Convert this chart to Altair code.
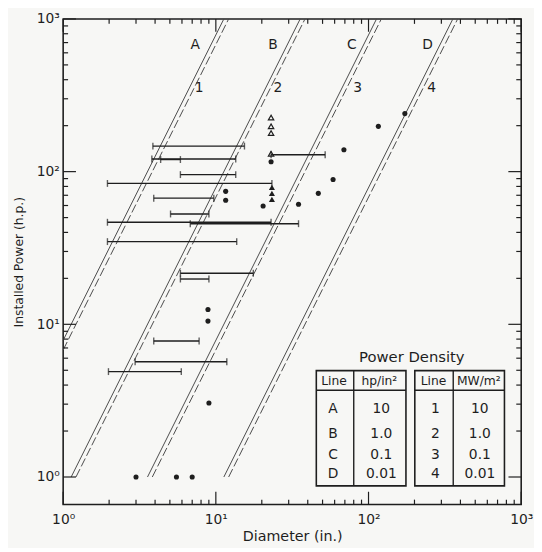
import math
import altair as alt
import pandas as pd

# ------------------------------------------------------------------ data
# Power-density lines (table values)
letters = ["A", "B", "C", "D"]
density_hp_in2 = [10, 1.0, 0.1, 0.01]
numbers = ["1", "2", "3", "4"]
density_mw_m2 = [10, 1.0, 0.1, 0.01]
table_hp_text = ["10", "1.0", "0.1", "0.01"]
table_mw_text = ["10", "1.0", "0.1", "0.01"]

# Horizontal ranges: installed power (h.p.) and diameter range (in.)
range_power = [147, 121, 120, 129, 95.6, 83.7, 67.0, 52.8, 46.6, 45.6, 34.8, 21.6, 19.8, 7.77, 5.69, 4.90]
range_dmin = [3.87, 3.81, 4.35, 23.0, 5.86, 1.95, 3.92, 5.05, 1.95, 6.80, 1.95, 5.86, 5.86, 3.92, 2.96, 1.98]
range_dmax = [15.4, 13.5, 5.86, 52.0, 13.5, 23.3, 9.70, 9.01, 23.0, 34.8, 13.7, 17.6, 9.01, 7.77, 11.8, 5.94]

# Single points
dot_diam = [11.6, 11.6, 20.4, 34.8, 46.9, 58.6, 69.0, 116, 173, 23.0, 8.88, 8.88, 9.01, 3.0, 5.52, 7.0]
dot_power = [74.3, 65.0, 59.5, 61.2, 72.1, 88.8, 139, 198, 240, 116, 12.5, 10.5, 3.05, 1.0, 1.0, 1.0]

open_tri_diam = [23.0, 23.0, 23.0, 23.0]
open_tri_power = [226, 198, 179, 131]
filled_tri_diam = [23.3, 23.3, 23.3]
filled_tri_power = [78.9, 72.1, 65.9]

# Line labels
letter_label_diam = [7.32, 23.7, 77.7, 244]
letter_label_power = [670, 670, 670, 670]
number_label_diam = [7.77, 25.5, 85, 259]
number_label_power = [353, 353, 353, 353]

# Axis ticks
major_ticks = [1, 10, 100, 1000]
minor_ticks = [2, 3, 4, 5, 6, 7, 8, 9,
               20, 30, 40, 50, 60, 70, 80, 90,
               200, 300, 400, 500, 600, 700, 800, 900]
tick_labels = ["10\u2070", "10\u00b9", "10\u00b2", "10\u00b3"]

# ------------------------------------------------------------------ style / layout
W, H = 465, 493
INK = "#1e1e1e"
LINE_INK = "#4a4a4a"
FONT = "DejaVu Sans"
BG = "#f7f7f5"
MAJ, MIN = 13, 5

xs = alt.Scale(type="log", domain=[1, 1000], nice=False)
ys = alt.Scale(type="log", domain=[0.66, 1000], nice=False)

label_expr = "[" + ",".join("'%s'" % t for t in tick_labels) + "][round(log(datum.value)/LN10)]"

xaxis = alt.Axis(values=major_ticks, labelExpr=label_expr, ticks=False, domain=False, grid=False,
                 labelFont=FONT, labelFontSize=14, labelColor=INK, labelPadding=8,
                 labelOverlap=False, labelFlush=False,
                 title="Diameter (in.)", titleFont=FONT, titleFontSize=14.5, titleFontWeight="normal",
                 titleColor=INK, titlePadding=3)
yaxis = alt.Axis(values=major_ticks, labelExpr=label_expr, ticks=False, domain=False, grid=False,
                 labelFont=FONT, labelFontSize=14, labelColor=INK, labelPadding=4,
                 labelOverlap=False, labelFlush=False,
                 title="Installed Power (h.p.)", titleFont=FONT, titleFontSize=12.5,
                 titleFontWeight="normal", titleColor=INK, titlePadding=11)


def X(field):
    return alt.X(field, type="quantitative", scale=xs, axis=xaxis)


def Y(field):
    return alt.Y(field, type="quantitative", scale=ys, axis=yaxis)


# ------------------------------------------------------------------ build frames
HP_W = 745.7
IN2_M2 = 0.0254 ** 2
line_rows = []
for name, dens in zip(letters, density_hp_in2):
    k = dens * math.pi / 4
    d_lo = max(1.0, math.sqrt(1 / k))
    d_hi = math.sqrt(1000 / k)
    line_rows += [dict(name=name, style="solid", d=d_lo, p=k * d_lo ** 2, o=0),
                  dict(name=name, style="solid", d=d_hi, p=1000.0, o=1)]
for name, dens in zip(numbers, density_mw_m2):
    k = dens * 1e6 * IN2_M2 / HP_W * math.pi / 4
    d_lo = max(1.0, math.sqrt(1 / k))
    d_hi = math.sqrt(1000 / k)
    line_rows += [dict(name=name, style="dash", d=d_lo, p=k * d_lo ** 2, o=0),
                  dict(name=name, style="dash", d=d_hi, p=1000.0, o=1)]
lines_df = pd.DataFrame(line_rows)

ranges_df = pd.DataFrame({"p": range_power, "d0": range_dmin, "d1": range_dmax})
caps_df = pd.DataFrame({"p": range_power + range_power, "d": range_dmin + range_dmax})
dots_df = pd.DataFrame({"d": dot_diam, "p": dot_power})
otri_df = pd.DataFrame({"d": open_tri_diam, "p": open_tri_power})
ftri_df = pd.DataFrame({"d": filled_tri_diam, "p": filled_tri_power})
lab_df = pd.DataFrame({"d": letter_label_diam + number_label_diam,
                       "p": letter_label_power + number_label_power,
                       "t": letters + numbers})

solid = alt.Chart(lines_df).transform_filter("datum.style == 'solid'").mark_line(
    color=LINE_INK, strokeWidth=1).encode(x=X("d"), y=Y("p"), detail="name:N", order="o:Q")
dashed = alt.Chart(lines_df).transform_filter("datum.style == 'dash'").mark_line(
    color=LINE_INK, strokeWidth=1, strokeDash=[9, 3]).encode(x=X("d"), y=Y("p"), detail="name:N", order="o:Q")

rng = alt.Chart(ranges_df).mark_rule(color=INK, strokeWidth=1.4).encode(
    x=X("d0"), x2="d1:Q", y=Y("p"))
caps = alt.Chart(caps_df).mark_tick(color=INK, orient="vertical", size=7, thickness=1.4).encode(
    x=X("d"), y=Y("p"))
dots = alt.Chart(dots_df).mark_point(filled=True, shape="circle", size=27, color=INK, opacity=1).encode(
    x=X("d"), y=Y("p"))
otri = alt.Chart(otri_df).mark_point(filled=False, shape="triangle-up", size=30, color=INK,
                                     strokeWidth=1.2, opacity=1).encode(x=X("d"), y=Y("p"))
ftri = alt.Chart(ftri_df).mark_point(filled=True, shape="triangle-up", size=38, color=INK,
                                     opacity=1).encode(x=X("d"), y=Y("p"))
labs = alt.Chart(lab_df).mark_text(font=FONT, fontSize=14, color=INK).encode(
    x=X("d"), y=Y("p"), text="t:N")

# inward ticks on all four sides
tick_layers = []
for vals, L in [(major_ticks, MAJ), (minor_ticks, MIN)]:
    df = pd.DataFrame({"v": vals})
    tick_layers += [
        alt.Chart(df).mark_rule(color=INK, strokeWidth=1.2).encode(x=X("v"), y=alt.value(H), y2=alt.value(H - L)),
        alt.Chart(df).mark_rule(color=INK, strokeWidth=1.2).encode(x=X("v"), y=alt.value(0), y2=alt.value(L)),
        alt.Chart(df).mark_rule(color=INK, strokeWidth=1.2).encode(y=Y("v"), x=alt.value(0), x2=alt.value(L)),
        alt.Chart(df).mark_rule(color=INK, strokeWidth=1.2).encode(y=Y("v"), x=alt.value(W), x2=alt.value(W - L)),
    ]

# ------------------------------------------------------------------ inset table (pixel layout)
T_Y0, T_Y1, T_HDR = 357, 474, 377
TABLES = [(257, 348, 295), (357, 448, 396)]
ROW_Y = [396, 421, 443, 462]
HDR_Y = 368
box_df = pd.DataFrame({"x0": [t[0] for t in TABLES], "x1": [t[1] for t in TABLES],
                       "y0": [T_Y0] * 2, "y1": [T_Y1] * 2})
boxes = alt.Chart(box_df).mark_rect(fill=BG, stroke=INK, strokeWidth=1.6).encode(
    x=alt.X("x0:Q", scale=None), x2="x1:Q", y=alt.Y("y0:Q", scale=None), y2="y1:Q")
hdr_df = pd.DataFrame({"x0": [t[0] for t in TABLES], "x1": [t[1] for t in TABLES], "y": [T_HDR] * 2})
hdr_rules = alt.Chart(hdr_df).mark_rule(color=INK, strokeWidth=1.4).encode(
    x=alt.X("x0:Q", scale=None), x2="x1:Q", y=alt.Y("y:Q", scale=None))
col_df = pd.DataFrame({"x": [t[2] for t in TABLES], "y0": [T_Y0] * 2, "y1": [T_Y1] * 2})
col_rules = alt.Chart(col_df).mark_rule(color=INK, strokeWidth=1.4).encode(
    x=alt.X("x:Q", scale=None), y=alt.Y("y0:Q", scale=None), y2="y1:Q")

cell_rows = [dict(t="Power Density", x=354, y=343, s=15)]
cell_rows += [dict(t="Line", x=275, y=HDR_Y, s=12.5), dict(t="hp/in\u00b2", x=321, y=HDR_Y, s=12.5),
              dict(t="Line", x=376, y=HDR_Y, s=12.5), dict(t="MW/m\u00b2", x=422, y=HDR_Y, s=12.5)]
for i in range(4):
    cell_rows += [dict(t=letters[i], x=274, y=ROW_Y[i], s=14),
                  dict(t=table_hp_text[i], x=323, y=ROW_Y[i], s=14),
                  dict(t=numbers[i], x=378, y=ROW_Y[i], s=14),
                  dict(t=table_mw_text[i], x=423, y=ROW_Y[i], s=14)]
cells_df = pd.DataFrame(cell_rows)
cells = alt.Chart(cells_df).mark_text(font=FONT, color=INK, baseline="middle").encode(
    x=alt.X("x:Q", scale=None), y=alt.Y("y:Q", scale=None), text="t:N",
    size=alt.Size("s:Q", scale=None, legend=None))

chart = alt.layer(
    solid, dashed, rng, caps, dots, otri, ftri, labs, *tick_layers,
    boxes, hdr_rules, col_rules, cells
).properties(
    width=W, height=H,
    autosize=alt.AutoSizeParams(type="none"),
    padding={"left": 56, "top": 7, "right": 13, "bottom": 40},
    background=BG,
).configure_view(stroke=INK, strokeWidth=1.6)

chart.save("out.html", embed_options={"renderer": "svg", "actions": False})
